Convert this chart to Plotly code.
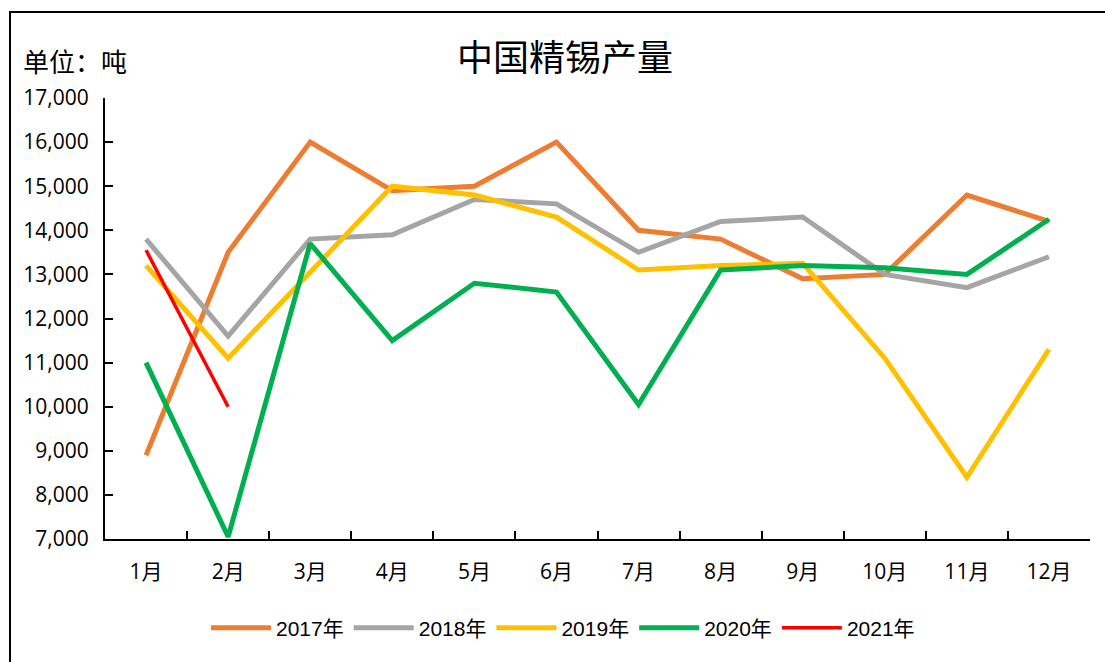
import plotly.graph_objects as go

months = ["1月", "2月", "3月", "4月", "5月", "6月", "7月", "8月", "9月", "10月", "11月", "12月"]
y2017 = [8900, 13500, 16000, 14900, 15000, 16000, 14000, 13800, 12900, 13000, 14800, 14200]
y2018 = [13800, 11600, 13800, 13900, 14700, 14600, 13500, 14200, 14300, 13000, 12700, 13400]
y2019 = [13200, 11100, 13050, 15000, 14800, 14300, 13100, 13200, 13250, 11100, 8400, 11300]
y2020 = [11000, 7050, 13700, 11500, 12800, 12600, 10050, 13100, 13200, 13150, 13000, 14250]
y2021 = [13550, 10000]

series = [
    ("2017年", y2017, "#ED7D31", 5),
    ("2018年", y2018, "#A5A5A5", 5),
    ("2019年", y2019, "#FFC000", 5),
    ("2020年", y2020, "#00B050", 5),
    ("2021年", y2021, "#FF0000", 3.5),
]

FONT = "Open Sans, Noto Sans CJK SC, sans-serif"
LEGFONT = "Liberation Sans Narrow, Liberation Sans, Noto Sans CJK SC, sans-serif"
CJK = "Noto Sans CJK SC, sans-serif"

fig = go.Figure()
for name, vals, color, w in series:
    fig.add_trace(go.Scatter(
        x=months[:len(vals)], y=vals, name=name, mode="lines",
        line=dict(color=color, width=w),
    ))

W, H = 1105, 662
L, R, T, B = 105, 15, 98, 123
pw, ph = W - L - R, H - T - B

def px(x):
    return (x - L) / pw

def py(y):
    return (H - B - y) / ph

fig.update_layout(
    width=W, height=H,
    margin=dict(l=L, r=R, t=T, b=B),
    paper_bgcolor="white", plot_bgcolor="white",
    showlegend=True,
    legend=dict(orientation="h", x=px(563), xanchor="center", y=py(628), yanchor="middle",
                font=dict(family=LEGFONT, size=21, color="#000"), itemwidth=60,
                tracegroupgap=0),
    xaxis=dict(
        type="category", range=[-0.5, 11.5], showline=True, linecolor="#000", linewidth=2,
        ticks="inside", ticklen=8, tickcolor="#000", tickwidth=2, tickson="boundaries",
        showgrid=False, tickfont=dict(family=FONT, size=21, color="#000"),
        ticklabelstandoff=13, zeroline=False,
    ),
    yaxis=dict(
        range=[7000, 17000], dtick=1000, tickformat=",d", showline=True, linecolor="#000",
        linewidth=2, ticks="inside", ticklen=8, tickcolor="#000", tickwidth=2,
        showgrid=False, zeroline=False, tickfont=dict(family=FONT, size=21, color="#000"),
        ticklabelstandoff=10,
    ),
    annotations=[
        dict(text="中国精锡产量", x=px(565), y=py(55), xref="paper", yref="paper",
             showarrow=False, font=dict(family=CJK, size=36, color="#000"),
             xanchor="center", yanchor="middle"),
        dict(text="单位：吨", x=px(21), y=py(61), xref="paper", yref="paper",
             showarrow=False, font=dict(family=CJK, size=26, color="#000"),
             xanchor="left", yanchor="middle"),
    ],
    shapes=[
        dict(type="rect", xref="paper", yref="paper", x0=px(10), x1=px(1120),
             y0=py(680), y1=py(12), line=dict(color="#000", width=2), layer="below"),
    ],
)

fig.write_html("out.html", config={"displayModeBar": False},
               post_script="document.body.style.margin='0';")
